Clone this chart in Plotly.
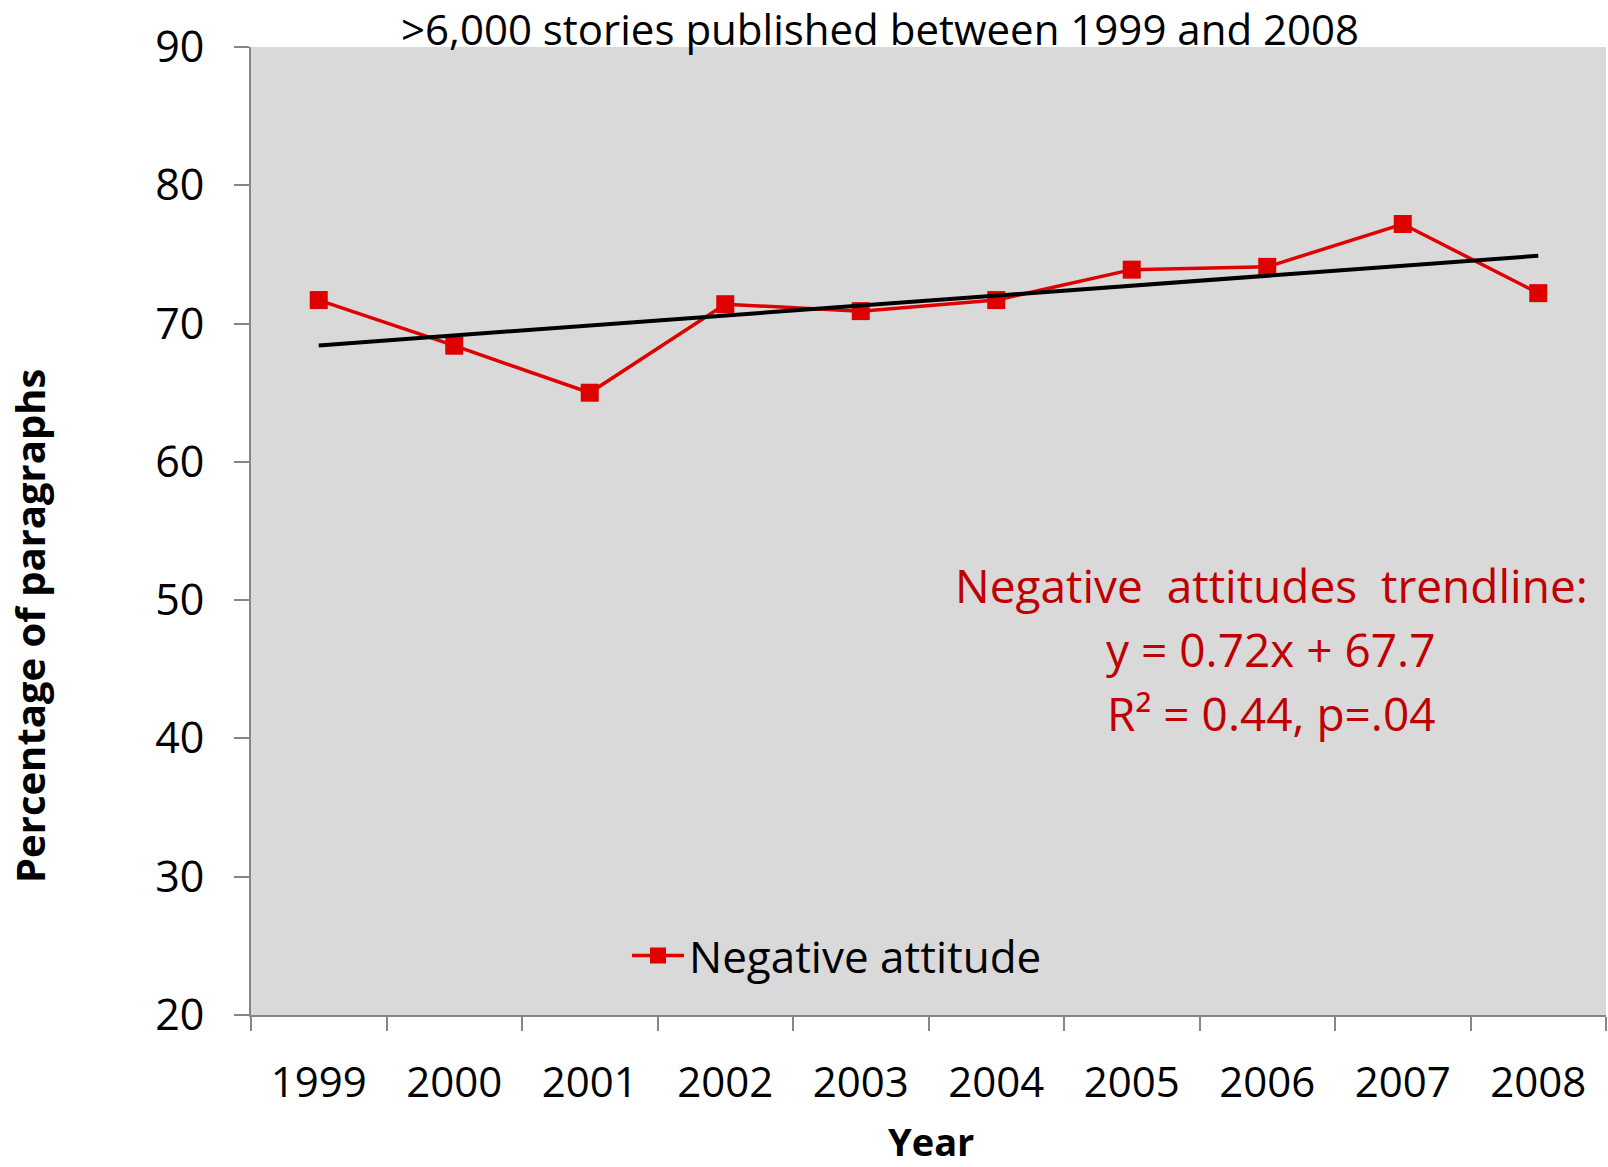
import plotly.graph_objects as go

# Yearly share of paragraphs with a negative attitude
years = ["1999", "2000", "2001", "2002", "2003", "2004", "2005", "2006", "2007", "2008"]
negative_pct = [71.7, 68.4, 65.0, 71.4, 70.9, 71.7, 73.9, 74.1, 77.2, 72.2]

# Linear trendline y = slope * x + intercept, x = 1..10
trend_slope = 0.72
trend_intercept = 67.7
trend_r2 = 0.44
trend_p = ".04"

y_ticks = [20, 30, 40, 50, 60, 70, 80, 90]

FONT = "Open Sans"
RED = "#DF0000"
DARK_RED = "#C00000"
AXIS_GRAY = "#868686"

trend_x = list(range(1, len(years) + 1))
trend_y = [trend_slope * x + trend_intercept for x in trend_x]

fig = go.Figure()

fig.add_trace(go.Scatter(
    x=years, y=negative_pct, name="Negative attitude",
    mode="lines+markers",
    line=dict(color=RED, width=3.5),
    marker=dict(symbol="square", size=18, color=RED),
))

fig.add_trace(go.Scatter(
    x=years, y=trend_y, mode="lines", showlegend=False,
    line=dict(color="black", width=4), hoverinfo="skip",
))

fig.update_layout(
    width=1608, height=1167,
    margin=dict(l=251, r=2, t=47, b=152),
    paper_bgcolor="white",
    plot_bgcolor="#D9D9D9",
    font=dict(family=FONT, color="black", size=42),
    showlegend=True,
    legend=dict(
        x=0.2775, y=0.061, xanchor="left", yanchor="middle",
        itemwidth=52,
        bgcolor="rgba(0,0,0,0)", font=dict(size=44, family=FONT),
    ),
    xaxis=dict(
        type="category", range=[-0.5, 9.5],
        showline=True, linecolor=AXIS_GRAY, linewidth=2,
        ticks="outside", tickson="boundaries", ticklen=14, tickwidth=2,
        tickcolor=AXIS_GRAY, showgrid=False, zeroline=False,
        tickfont=dict(size=42, family=FONT), ticklabelstandoff=30,
    ),
    yaxis=dict(
        range=[20, 90], tickvals=y_ticks,
        showline=True, linecolor=AXIS_GRAY, linewidth=2,
        ticks="outside", ticklen=15, tickwidth=2, tickcolor=AXIS_GRAY,
        showgrid=False, zeroline=False,
        tickfont=dict(size=43, family=FONT), ticklabelstandoff=21,
    ),
)

def px_y(py):
    # paper y from a pixel row measured from the top of the figure
    return (1015 - py) / 968

annotations = [
    dict(text=">6,000 stories published between 1999 and 2008",
         x=0.464, y=px_y(29), font=dict(size=42)),
    dict(text="<b>Percentage of paragraphs</b>", textangle=-90,
         x=(30 - 251) / 1355, y=px_y(626), font=dict(size=40)),
    dict(text="<b>Year</b>", x=(931 - 251) / 1355, y=px_y(1141),
         font=dict(size=38)),
    dict(text="Negative&nbsp; attitudes&nbsp; trendline:",
         x=(1271 - 251) / 1355, y=px_y(585), font=dict(size=46, color=DARK_RED)),
    dict(text=f"y = {trend_slope}x + {trend_intercept}",
         x=(1271 - 251) / 1355, y=px_y(649), font=dict(size=46, color=DARK_RED)),
    dict(text=f"R² = {trend_r2}, p={trend_p}",
         x=(1271 - 251) / 1355, y=px_y(713), font=dict(size=46, color=DARK_RED)),
]
for a in annotations:
    fig.add_annotation(xref="paper", yref="paper", showarrow=False,
                       xanchor="center", yanchor="middle", **a)

fig.write_html("out.html")
